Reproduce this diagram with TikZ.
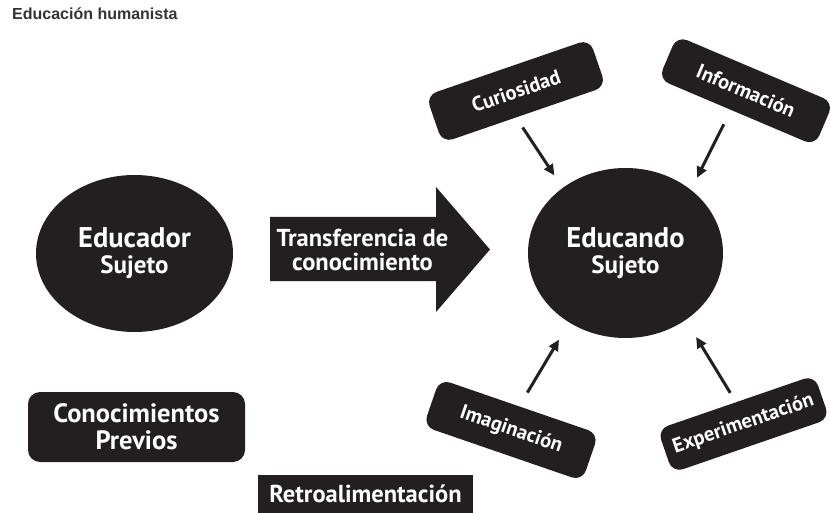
\documentclass[tikz,border=0pt]{standalone}
\usepackage{fontspec}
\setmainfont{PT Sans}
\newfontfamily\titlefont{Liberation Sans}
\usetikzlibrary{shapes.geometric,arrows.meta}
\definecolor{ink}{HTML}{231F20}
\definecolor{titlegray}{HTML}{333333}

\begin{document}
\begin{tikzpicture}[x=1pt,y=-1pt,
  blob/.style={ellipse,fill=ink,text=white,inner sep=0pt,outer sep=0pt,align=center,font=\bfseries\fontsize{28.5}{26}\selectfont},
  tag/.style={rectangle,rounded corners=11pt,fill=ink,text=white,inner sep=0pt,outer sep=0pt,align=center,font=\bfseries\fontsize{20.5}{22}\selectfont},
  feed/.style={-{Triangle[length=11pt,width=10pt]},line width=3pt,ink}]
\useasboundingbox (0,0) rectangle (830,513);
\node[anchor=base west,inner sep=0pt,font=\titlefont\bfseries\fontsize{16}{18}\selectfont,text=titlegray] (title) at (12,20) {Educación humanista};

\node[blob,minimum width=197pt,minimum height=157pt] (educador) at (134.5,253.5) {Educador\\{\fontsize{25}{26}\selectfont Sujeto}};
\node[blob,minimum width=195pt,minimum height=170pt] (educando) at (625.5,253) {Educando\\{\fontsize{25}{26}\selectfont Sujeto}};

\fill[ink] (270,217) -- (436,217) -- (436,187) -- (490,249.5) -- (436,312) -- (436,281) -- (270,281) -- cycle;
\node[text=white,align=center,font=\bfseries\fontsize{24.5}{24}\selectfont] (transfer) at (362.5,250) {Transferencia de\\conocimiento};

\node[tag,rotate=19,minimum width=173pt,minimum height=50pt] (curio) at (516,91) {Curiosidad};
\node[tag,rotate=-23,minimum width=170pt,minimum height=47pt] (info) at (746,90.75) {Información};
\node[tag,rotate=-19,minimum width=168pt,minimum height=50pt] (imag) at (511,430) {Imaginación};
\node[tag,rotate=19,minimum width=166pt,minimum height=46pt] (exper) at (743.5,424) {Experimentación};

\draw[feed,shorten <=12pt,shorten >=15pt] (curio.251) -- (educando.134);
\draw[feed,shorten <=16pt,shorten >=13.5pt] (info.255) -- (educando.44);
\draw[feed,shorten <=16pt,shorten >=20pt] (imag.north) -- (educando.231);
\draw[feed,shorten <=11pt,shorten >=20pt] (exper.north) -- (educando.312);

\node[tag,rounded corners=12pt,minimum width=217pt,minimum height=70pt,font=\bfseries\fontsize{26.5}{27}\selectfont] (previos) at (136.5,427) {Conocimientos\\Previos};
\node[fill=ink,text=white,inner sep=0pt,minimum width=215pt,minimum height=38pt,font=\bfseries\fontsize{24.5}{25}\selectfont] (retro) at (365.5,494) {Retroalimentación};
\end{tikzpicture}
\end{document}
